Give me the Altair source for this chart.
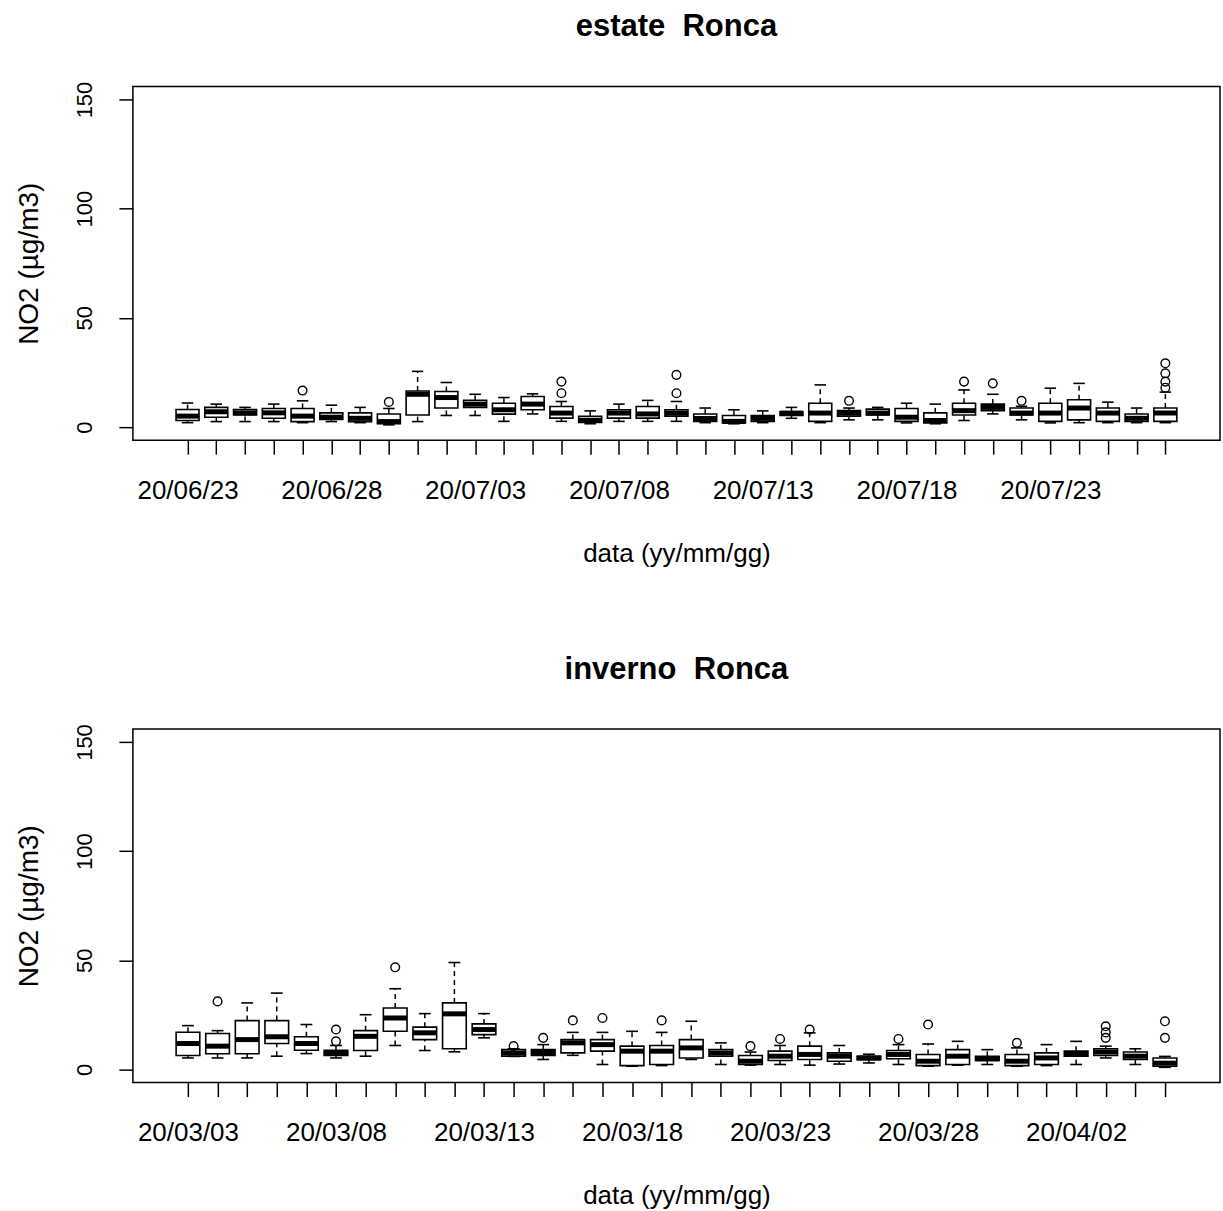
import altair as alt
import pandas as pd

# ---------------- data ----------------
summer_dates = [d.strftime("%y/%m/%d") for d in pd.date_range("2020-06-23", "2020-07-27")]
winter_dates = [d.strftime("%y/%m/%d") for d in pd.date_range("2020-03-03", "2020-04-05")]

# five-number summaries per day (lower whisker, q1, median, q3, upper whisker)
summer_lw = [2, 2.5, 2.5, 2.5, 2, 2.5, 2, 1, 2.5, 5.3, 5.3, 2.6, 6, 2.6, 1.5, 2.6, 2.6, 2.6, 2, 1.5,
             2, 4, 2, 3.3, 3.3, 1.9, 1.5, 3, 6, 3.3, 1.9, 2, 2, 2, 2]
summer_q1 = [3, 4.5, 5.5, 4, 2.5, 3.5, 2.5, 1.5, 5.5, 8.7, 9, 5.9, 7.9, 4.1, 2.1, 4.1, 4.1, 5, 2.6, 1.9,
             2.6, 5.3, 2.6, 5, 5.5, 2.6, 1.9, 5.5, 7.5, 5.5, 2.6, 3.3, 2.6, 2.6, 2.6]
summer_med = [5, 7, 6.5, 6.5, 5, 4.5, 4, 2.5, 15, 13.5, 10.5, 7.9, 10.5, 6.4, 3, 6.4, 6, 6.4, 3.9, 2.6,
              4, 6.4, 6.4, 6.4, 6.4, 4.5, 3, 7.5, 9, 6.4, 6.4, 8.7, 6.4, 4, 6.4]
summer_q3 = [8, 9, 8, 8.5, 8.5, 6.5, 6.5, 6, 16.5, 16.3, 12.3, 10.9, 14, 9.4, 4.9, 7.9, 9.4, 7.9, 6, 5.3,
             5.3, 7, 10.9, 7.5, 8.2, 8.5, 6.5, 10.9, 10.5, 8.7, 10.9, 12.5, 8.7, 6, 8.7]
summer_uw = [11, 10.5, 9, 10.5, 12, 10, 9, 8.5, 25.5, 20.4, 15, 13.5, 15.2, 11.7, 7.4, 10.5, 12.2, 11.7, 8.7, 7.9,
             7.4, 9, 19.3, 8.7, 9, 10.9, 10.5, 17, 15, 9.5, 17.8, 20, 11.4, 8.7, 16]
summer_out_day = [5, 8, 14, 14, 18, 18, 24, 28, 29, 30, 35, 35, 35, 35]
summer_out_val = [16.7, 11.5, 15.5, 20.8, 15.5, 23.9, 12, 20.8, 20, 12, 18, 20.8, 24.6, 29.2]

winter_lw = [5.3, 5.3, 5.3, 6.1, 7.3, 5.3, 6.1, 11, 8.7, 8.1, 14.5, 6, 4.6, 6.5, 2.3, 1.5, 1.8, 4.6, 2.3, 2,
             2.3, 2, 2.5, 3, 2.3, 1.5, 2, 2.3, 1.5, 1.8, 2.3, 5.3, 2.3, 1]
winter_q1 = [6.4, 7.2, 7.2, 11.9, 8.8, 6.4, 8.7, 17.5, 13.7, 9.5, 16, 6.1, 6.4, 7.6, 8.4, 1.8, 2.3, 5.3, 6.1, 2.3,
             4.1, 4.6, 3.8, 4.5, 4.9, 1.8, 2.3, 4.1, 1.8, 2.3, 6.1, 6.4, 4.6, 1.5]
winter_med = [11.9, 10.7, 13.7, 15, 11.9, 7.5, 15.2, 23.6, 16.8, 25.5, 18.3, 7.5, 7.8, 12.2, 11.4, 8.4, 8.4, 9.9, 7.5, 3.8,
              6.1, 6.9, 6.1, 5.3, 6.9, 3.8, 6.1, 4.9, 3.8, 5.3, 7.2, 8, 6.1, 2.9]
winter_q3 = [17.1, 16.5, 22.4, 22.4, 15, 8.8, 17.8, 28.2, 19.4, 30.5, 20.9, 9.1, 9.1, 13.7, 13.7, 10.7, 11, 13.7, 9.1, 6.4,
             8.4, 10.7, 7.6, 6, 8.7, 6.9, 9.1, 6.1, 6.9, 7.6, 8.4, 9.5, 8, 5.3]
winter_uw = [20.1, 17.8, 30.5, 35, 20.6, 11, 25.1, 37, 25.6, 49, 25.6, 9.5, 11.4, 17, 17, 17.5, 17, 22.1, 12.2, 8,
             11, 16.8, 11, 7, 11.4, 11.7, 12.9, 9.1, 9.9, 11.4, 12.9, 10.7, 9.5, 6]
winter_out_day = [2, 6, 6, 8, 12, 13, 14, 15, 17, 20, 21, 22, 25, 26, 29, 32, 32, 32, 34, 34]
winter_out_val = [31.2, 12.9, 18.3, 46.8, 10.7, 14.5, 22.5, 23.6, 22.5, 10.7, 14, 18.3, 14, 20.6, 12.2, 14.5, 17, 19.8, 14.5, 22.1]

FONT = "Liberation Sans"


def panel(dates, lw, q1, med, q3, uw, out_day, out_val, title, box_w):
    n = len(dates)
    days = list(range(1, n + 1))
    stats = pd.DataFrame({"day": days, "date": dates, "lw": lw, "q1": q1,
                          "med": med, "q3": q3, "uw": uw})
    outs = pd.DataFrame({"day": out_day, "v": out_val})
    arr = "[" + ",".join("'" + (d if (i % 5 == 0) else "") + "'" for i, d in enumerate(dates)) + "]"
    ext = 0.04 * n  # R extends xlim by 4 %
    xscale = alt.Scale(domain=[0.5 - ext, n + 0.5 + ext], nice=False, zero=False, padding=0)

    xaxis = alt.Axis(title="data (yy/mm/gg)", values=days, tickCount=200, domain=False, grid=False,
                     tickSize=14, tickWidth=1.5, tickColor="black",
                     labelExpr=arr + "[datum.value - 1]",
                     labelAngle=0, labelFont=FONT, labelFontSize=26, labelColor="black",
                     labelPadding=23, labelOverlap=False, labelFlush=False,
                     titleFont=FONT, titleFontSize=26, titleFontWeight="normal",
                     titleColor="black", titlePadding=37)
    yscale = alt.Scale(domain=[-6, 156], nice=False, zero=False, padding=0)
    yaxis = alt.Axis(title="NO2 (µg/m3)", values=[0, 50, 100, 150], domain=False, grid=False,
                     tickSize=14, tickWidth=1.5, tickColor="black",
                     labelAngle=-90, labelFont=FONT, labelFontSize=22, labelColor="black",
                     labelPadding=22, labelAlign="center", labelBaseline="bottom",
                     titleFont=FONT, titleFontSize=28, titleFontWeight="normal",
                     titleColor="black", titlePadding=30)

    base = alt.Chart(stats).encode(x=alt.X("day:Q", scale=xscale, axis=xaxis))
    wh_hi = base.mark_rule(color="black", strokeWidth=1.5, strokeDash=[5, 4]).encode(
        y=alt.Y("q3:Q", scale=yscale, axis=yaxis), y2="uw:Q")
    wh_lo = base.mark_rule(color="black", strokeWidth=1.5, strokeDash=[5, 4]).encode(
        y=alt.Y("lw:Q", scale=yscale), y2="q1:Q")
    box = base.mark_bar(size=box_w, fill="white", stroke="black", strokeWidth=1.6,
                        orient="vertical", opacity=1).encode(
        y=alt.Y("q1:Q", scale=yscale), y2="q3:Q")
    median = base.mark_tick(size=box_w, thickness=5, color="black", opacity=1,
                            orient="horizontal").encode(
        y=alt.Y("med:Q", scale=yscale))
    cap_hi = base.mark_tick(size=box_w / 2, thickness=1.6, color="black", opacity=1,
                            orient="horizontal").encode(
        y=alt.Y("uw:Q", scale=yscale))
    cap_lo = base.mark_tick(size=box_w / 2, thickness=1.6, color="black", opacity=1,
                            orient="horizontal").encode(
        y=alt.Y("lw:Q", scale=yscale))
    pts = alt.Chart(outs).mark_point(shape="circle", filled=False, color="black", opacity=1,
                                     size=75, strokeWidth=1.4).encode(
        x=alt.X("day:Q", scale=xscale),
        y=alt.Y("v:Q", scale=yscale))

    return alt.layer(wh_hi, wh_lo, box, median, cap_hi, cap_lo, pts).properties(
        width=1088, height=354,
        title=alt.TitleParams(title, font=FONT, fontSize=31, fontWeight="bold",
                              color="black", anchor="middle", offset=38))


top = panel(summer_dates, summer_lw, summer_q1, summer_med, summer_q3, summer_uw,
            summer_out_day, summer_out_val, "estate \u00a0Ronca", 23)
bottom = panel(winter_dates, winter_lw, winter_q1, winter_med, winter_q3, winter_uw,
               winter_out_day, winter_out_val, "inverno \u00a0Ronca", 23.7)

chart = alt.vconcat(top, bottom, spacing=86).properties(
    padding={"left": 15, "top": 10, "right": 2, "bottom": 5},
    background="white",
).configure_view(stroke="black", strokeWidth=1.5)

chart.save("out.html", embed_options={"renderer": "svg", "actions": False})
